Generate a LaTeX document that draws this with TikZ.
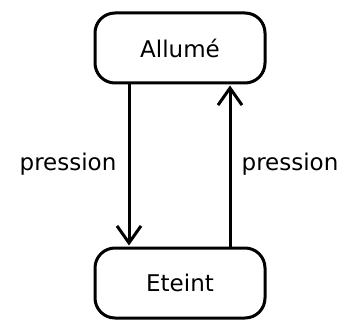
\documentclass[tikz,border=0pt]{standalone}
\usepackage{fontspec}
\setmainfont{DejaVu Sans}
\usetikzlibrary{arrows.meta}
\begin{document}
\begin{tikzpicture}[x=1pt,y=-1pt,
  state/.style={draw, line width=3pt, rounded corners=20pt, minimum width=170pt, minimum height=70pt, font=\fontsize{23}{26}\selectfont, inner sep=0pt},
  trans/.style={line width=3pt, shorten >=1pt, -{Straight Barb[length=17pt,width=24pt,line width=3pt]}},
  lab/.style={font=\fontsize{23}{26}\selectfont, inner sep=0pt}]
\useasboundingbox (0,0) rectangle (344,320);
\node[state] (on) at (180,48) {Allumé};
\node[state] (off) at (180,283) {Eteint};
\draw[trans] ([xshift=-51pt]on.south) -- ([xshift=-51pt]off.north);
\draw[trans] ([xshift=50pt]off.north) -- ([xshift=50pt]on.south);
\node[lab] (l1) at (68,164) {pression};
\node[lab] (l2) at (290,164) {pression};
\end{tikzpicture}
\end{document}
